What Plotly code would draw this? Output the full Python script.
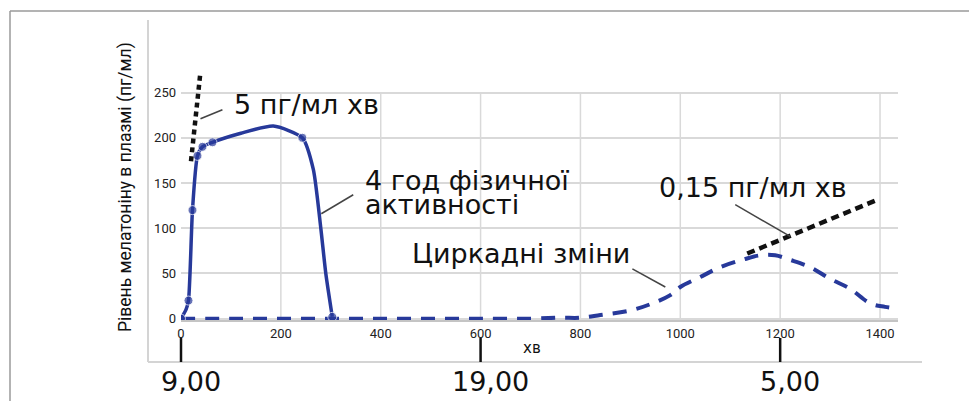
import plotly.graph_objects as go

# ---- data ----
ex_x = [0, 10, 15, 23, 33, 43, 63, 120, 185, 243, 265, 280, 290, 303]
ex_y = [0, 10, 20, 120, 180, 190, 195, 205, 213, 200, 165, 100, 50, 2]
ex_marker = [0, 15, 23, 33, 43, 63, 243, 303]

circ_x = [0, 100, 200, 300, 400, 500, 600, 700, 760, 800, 840, 900, 940, 980, 1000, 1040, 1080, 1130,
          1160, 1190, 1220, 1260, 1300, 1340, 1380, 1410, 1436]
circ_y = [0, 0, 0, 0, 0, 0, 0, 0, 1, 1, 4, 9, 16, 26, 35, 46, 57, 66, 70, 70, 65, 57, 44, 33, 17, 13, 11]

steep_x = [20, 39]
steep_y = [174, 273]
shallow_x = [1134, 1397]
shallow_y = [72, 132]

x_ticks = [0, 200, 400, 600, 800, 1000, 1200, 1400]
y_ticks = [0, 50, 100, 150, 200, 250]
time_ticks = [0, 600, 1200]
time_labels = ["9,00", "19,00", "5,00"]

XR = [0, 1436]
YR = [-1.5, 286]
OFF = 8  # page body margin
W, H = 977 - OFF, 401 - OFF
ML, MR, MT, MB = 181 - OFF, 79, 60 - OFF, 81

BLUE = "#27399a"

def px2paper_x(px):
    return (px - OFF - ML) / (W - ML - MR)

def px2paper_y(py):
    return (H - MB - (py - OFF)) / (H - MT - MB)

def dx2paper(x):
    return (x - XR[0]) / (XR[1] - XR[0])

fig = go.Figure()

# circadian dashed
fig.add_trace(go.Scatter(x=circ_x, y=circ_y, mode="lines", line=dict(color=BLUE, width=4, dash="14px,10px", shape="spline"),
                         hoverinfo="skip", showlegend=False))
# exercise solid
sizes = [9 if x in ex_marker else 0 for x in ex_x]
fig.add_trace(go.Scatter(x=ex_x, y=ex_y, mode="lines+markers",
                         line=dict(color=BLUE, width=3.5, shape="spline", smoothing=0.6),
                         marker=dict(color=BLUE, size=sizes), hoverinfo="skip", showlegend=False))
# slope lines
fig.add_trace(go.Scatter(x=steep_x, y=steep_y, mode="lines", line=dict(color="#111", width=4.5, dash="5px,4px"),
                         hoverinfo="skip", showlegend=False))
fig.add_trace(go.Scatter(x=shallow_x, y=shallow_y, mode="lines", line=dict(color="#111", width=4.5, dash="8px,5px"),
                         hoverinfo="skip", showlegend=False))

shapes = []
# vertical gridlines
for xv in x_ticks[1:]:
    shapes.append(dict(type="line", xref="x", yref="y", x0=xv, x1=xv, y0=0, y1=250,
                       line=dict(color="#d9d9d9", width=1.5), layer="below"))
# outer frame
shapes.append(dict(type="line", xref="paper", yref="paper", x0=px2paper_x(10), x1=px2paper_x(990),
                   y0=px2paper_y(11), y1=px2paper_y(11), line=dict(color="#9a9a9a", width=1.5)))
shapes.append(dict(type="line", xref="paper", yref="paper", x0=px2paper_x(10), x1=px2paper_x(10),
                   y0=px2paper_y(11), y1=px2paper_y(410), line=dict(color="#9a9a9a", width=1.5)))
# inner L
shapes.append(dict(type="line", xref="paper", yref="paper", x0=px2paper_x(148), x1=px2paper_x(148),
                   y0=px2paper_y(20), y1=px2paper_y(362), line=dict(color="#d4d4d4", width=2)))
shapes.append(dict(type="line", xref="paper", yref="paper", x0=px2paper_x(148), x1=px2paper_x(922),
                   y0=px2paper_y(362), y1=px2paper_y(362), line=dict(color="#d4d4d4", width=2)))
# time ticks
for t in time_ticks:
    shapes.append(dict(type="line", xref="paper", yref="paper", x0=dx2paper(t), x1=dx2paper(t),
                       y0=px2paper_y(338), y1=px2paper_y(362), line=dict(color="#111", width=2.5)))
# leader lines
leaders = [((39, 221), (83, 231)), ((281, 116), (345, 137)), ((904, 55), (970, 35)), ((1110, 126), (1220, 91))]
for (a, b) in leaders:
    shapes.append(dict(type="line", xref="x", yref="y", x0=a[0], y0=a[1], x1=b[0], y1=b[1],
                       line=dict(color="#444", width=1.5)))

TF = dict(family="DejaVu Sans", size=27, color="#111")
annotations = [
    dict(x=103, y=237, text="5 пг/мл хв", xanchor="left", yanchor="middle"),
    dict(x=365, y=153, text="4 год фізичної", xanchor="left", yanchor="middle"),
    dict(x=365, y=126, text="активності", xanchor="left", yanchor="middle"),
    dict(x=459, y=72, text="Циркадні зміни", xanchor="left", yanchor="middle"),
    dict(x=954, y=145, text="0,15 пг/мл хв", xanchor="left", yanchor="middle"),
]
for a in annotations:
    a.update(xref="x", yref="y", showarrow=False, font=TF)
for t, lab in zip(time_ticks, time_labels):
    annotations.append(dict(xref="paper", yref="paper", x=dx2paper(t), y=px2paper_y(381), text=lab,
                            xanchor="center", yanchor="middle", xshift=10, showarrow=False,
                            font=dict(family="DejaVu Sans", size=27, color="#111")))
annotations.append(dict(xref="paper", yref="paper", x=px2paper_x(532), y=px2paper_y(348), text="хв",
                        xanchor="center", yanchor="middle", showarrow=False,
                        font=dict(family="DejaVu Sans", size=15, color="#111")))
annotations.append(dict(xref="paper", yref="paper", x=px2paper_x(125), y=px2paper_y(187),
                        text="Рівень мелатоніну в плазмі (пг/мл)", textangle=-90,
                        xanchor="center", yanchor="middle", showarrow=False,
                        font=dict(family="Roboto", size=17.5, color="#111")))

fig.update_layout(
    width=W, height=H, margin=dict(l=ML, r=MR, t=MT, b=MB),
    paper_bgcolor="white", plot_bgcolor="white",
    shapes=shapes, annotations=annotations, showlegend=False,
    xaxis=dict(range=XR, tickvals=x_ticks, showgrid=False, zeroline=False, showline=True,
               linecolor="#c4c4c4", linewidth=2, ticks="", tickfont=dict(family="Roboto", size=13, color="#222")),
    yaxis=dict(range=YR, tickvals=y_ticks, showgrid=True, gridcolor="#d9d9d9", gridwidth=1.5,
               zeroline=False, showline=False, ticks="", ticklabelstandoff=4,
               tickfont=dict(family="Roboto", size=13, color="#222")),
)

fig.write_html("out.html")
